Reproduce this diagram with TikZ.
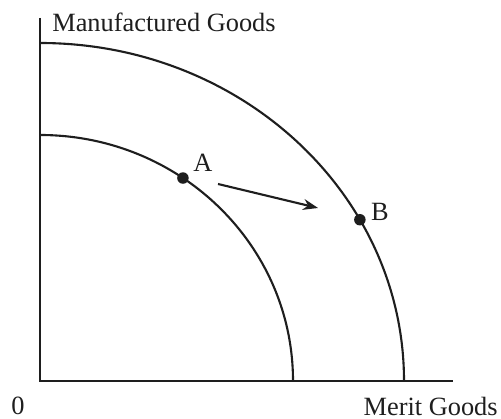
\documentclass[tikz,border=0pt]{standalone}
\usepackage{fontspec}
\setmainfont{Liberation Serif}
\usetikzlibrary{arrows.meta}
\definecolor{inkgray}{HTML}{1E1E1E}

\begin{document}
\begin{tikzpicture}[
		font=\fontsize{15}{18}\selectfont,
		axis/.style={draw=inkgray, line width=1.3pt},
		frontier/.style={draw=inkgray, line width=1.2pt},
		label/.style={text=inkgray, inner sep=0pt},
		dot/.style={circle, fill=inkgray, inner sep=0pt, minimum size=0.23cm},
	]

	% frame, same proportions as the reference
	\useasboundingbox (-0.8,-0.76) rectangle (9.22,7.62);

	% frontier radii
	\def\innerrx{5.06}
	\def\innerry{4.92}
	\def\outerrx{7.28}
	\def\outerry{6.76}

	% axes
	\coordinate (origin) at (0,0);
	\coordinate (ytop) at (0,7.26);
	\coordinate (xend) at (8.26,0);
	\draw[axis] (ytop) -- (origin) -- (xend);

	% axis labels
	\node[label, anchor=west] (ylabel) at (0.24,7.18) {Manufactured Goods};
	\node[label, anchor=east] (xlabel) at (9.16,-0.5) {Merit Goods};
	\node[label] (zero) at (-0.44,-0.5) {0};

	% production possibility frontiers
	\draw[frontier] (0,\innerry) arc[start angle=90, end angle=0,
		x radius=\innerrx, y radius=\innerry];
	\draw[frontier] (0,\outerry) arc[start angle=90, end angle=0,
		x radius=\outerrx, y radius=\outerry];

	% points on the frontiers
	\node[dot] (ptA) at ({\innerrx*cos(55.6)},{\innerry*sin(55.6)}) {};
	\node[dot] (ptB) at ({\outerrx*cos(28.5)},{\outerry*sin(28.5)}) {};
	\node[label] (labA) at (3.26,4.36) {A};
	\node[label] (labB) at (6.8,3.38) {B};

	% outward shift
	\coordinate (shiftstart) at (3.56,3.94);
	\coordinate (shiftend) at (5.56,3.46);
	\draw[frontier, -{Stealth[length=0.3cm, width=0.22cm]}] (shiftstart) -- (shiftend);

\end{tikzpicture}
\end{document}
